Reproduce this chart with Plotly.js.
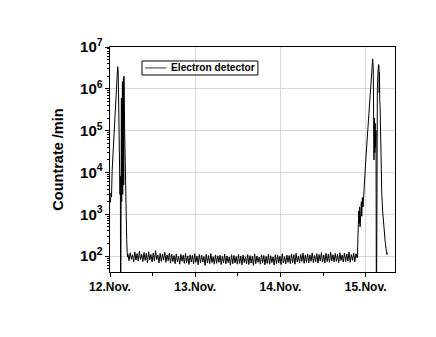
<!DOCTYPE html>
<html>
<head>
<meta charset="utf-8">
<script src="https://cdn.plot.ly/plotly-3.0.1.min.js"></script>
<style>
  html, body { margin: 0; padding: 0; background: #fff; }
  #chart { width: 436px; height: 337px; }
</style>
</head>
<body>
<div id="chart"></div>
<script>
// time in days of November, countrate in counts/min
const burst1Time = [12.005, 12.012, 12.018, 12.025, 12.035, 12.045, 12.055, 12.065, 12.075, 12.085, 12.090,
  12.095, 12.100, 12.106, 12.112, 12.117, 12.122, 12.125, 12.128, 12.131, 12.134, 12.137, 12.140,
  12.143, 12.146, 12.149, 12.152, 12.155, 12.158, 12.161, 12.164, 12.167, 12.172, 12.178, 12.184,
  12.190, 12.196, 12.202, 12.206];
const burst1Rate = [1900, 3200, 2600, 1.1e4, 2.6e4, 6e4, 1.5e5, 3.5e5, 8.5e5, 2.1e6, 3.4e6,
  2.9e6, 8e5, 1.5e5, 2.5e4, 3e3, 8e3, 1, 5e4, 1.5e3, 6e5, 2e3, 1e6,
  4e3, 1.5e6, 3e3, 8e5, 1.2e4, 1.8e6, 5e3, 2e6, 6e5, 1e5, 1.5e4, 2e3,
  600, 250, 120, 95];

const quietStart = 12.21;
const quietStep = 0.01352;
const quietRate = [
  112, 78, 120, 84, 108, 72, 126, 80, 115, 76, 131, 83, 110, 74, 122, 79, 117, 70, 128, 81,
  109, 73, 119, 77, 135, 82, 106, 69, 116, 75, 112, 80, 124, 71, 107, 78, 118, 68, 111, 74,
  103, 66, 113, 72, 99, 64, 110, 75, 105, 67, 116, 70, 101, 63, 108, 73, 104, 65, 114, 71,
  100, 62, 109, 69, 106, 72, 98, 60, 111, 68, 103, 66, 115, 70, 97, 64, 107, 67, 102, 71,
  105, 63, 99, 68, 112, 65, 101, 70, 96, 61, 108, 66, 104, 69, 98, 64, 110, 67, 100, 62,
  106, 70, 97, 65, 109, 63, 103, 68, 99, 60, 113, 66, 101, 71, 95, 64, 107, 69, 104, 62,
  98, 67, 111, 64, 102, 70, 96, 61, 108, 66, 105, 69, 100, 63, 114, 68, 97, 65, 106, 71,
  103, 66, 112, 70, 108, 64, 116, 72, 101, 68, 110, 74, 118, 67, 105, 71, 113, 69, 107, 75,
  119, 70, 104, 73, 115, 68, 109, 76, 121, 72, 106, 69, 117, 74, 111, 71, 123, 77, 108, 73,
  116, 75, 110, 70, 120, 78, 107, 72, 118, 74, 113, 76, 125, 71, 109, 79, 119, 73, 114, 90
];

const burst2Time = [14.905, 14.910, 14.915, 14.920, 14.925, 14.930, 14.935, 14.940, 14.945, 14.950,
  14.955, 14.962, 14.970, 14.980, 14.990, 15.000, 15.020, 15.040, 15.060, 15.075, 15.083,
  15.090, 15.095, 15.098, 15.103, 15.108, 15.112, 15.117, 15.122, 15.127, 15.131, 15.138,
  15.145, 15.152, 15.157, 15.160, 15.163, 15.166, 15.170, 15.175, 15.180, 15.190, 15.200,
  15.210, 15.220, 15.230, 15.240, 15.250, 15.255];
const burst2Rate = [95, 300, 700, 1200, 600, 1500, 500, 1300, 700, 2000,
  900, 2500, 1500, 4000, 6000, 1.7e4, 7e4, 2.6e5, 1e6, 2.8e6, 5.2e6,
  3e6, 5e5, 2e4, 2e5, 3e4, 1.5e5, 4e4, 1e5, 1, 3e5, 1e6,
  2.5e6, 3.8e6, 3.6e6, 8e5, 2.5e6, 5e5, 4e5, 6e4, 1.2e4, 3e3, 1.2e3,
  600, 350, 220, 150, 110, 120];

const dayTicks = [12, 13, 14, 15];
const dayLabels = ['12.Nov.', '13.Nov.', '14.Nov.', '15.Nov.'];
const seriesName = 'Electron detector';

const quietTime = quietRate.map((_, i) => quietStart + i * quietStep);
const time = burst1Time.concat(quietTime, burst2Time);
const rate = burst1Rate.concat(quietRate, burst2Rate);

const font = 'Liberation Sans, Arial, sans-serif';
const xRange = [12, 15.345];
const yRange = [1.62, 7];

const traces = [{
  x: time,
  y: rate,
  type: 'scatter',
  mode: 'lines',
  name: seriesName,
  showlegend: false,
  line: { color: '#000', width: 1 },
}];

// legend: white box with border, line sample, and label on top
const legendRect = {
  type: 'rect', xref: 'paper', yref: 'paper', layer: 'above',
  x0: 0.1123, x1: 0.519, y0: 0.8756, y1: 0.9378,
  fillcolor: '#fff', line: { color: '#000', width: 1 },
};
const legendLine = {
  type: 'line', xref: 'paper', yref: 'paper', layer: 'above',
  x0: 0.123, x1: 0.198, y0: 0.907, y1: 0.907,
  line: { color: '#000', width: 0.8 },
};
const legendLabel = {
  xref: 'paper', yref: 'paper', x: 0.515, y: 0.907,
  xanchor: 'right', yanchor: 'middle',
  text: seriesName, showarrow: false,
  font: { family: font, size: 10.2, weight: 'bold', color: '#000' },
};

const layout = {
  width: 436,
  height: 337,
  margin: { l: 110, r: 41, t: 47, b: 65 },
  paper_bgcolor: '#fff',
  plot_bgcolor: '#fff',
  font: { family: font, color: '#000' },
  showlegend: false,
  annotations: [legendLabel],
  shapes: [legendRect, legendLine],
  xaxis: {
    range: xRange,
    tickmode: 'array', tickvals: dayTicks, ticktext: dayLabels,
    ticks: 'outside', ticklen: 4, tickwidth: 1, tickcolor: '#000',
    minor: { tickmode: 'linear', tick0: 12, dtick: 0.5, ticks: 'outside', ticklen: 3, tickcolor: '#000', showgrid: false },
    showgrid: true, gridcolor: '#d9d9d9', gridwidth: 1,
    showline: true, linecolor: '#000', linewidth: 1, mirror: true,
    zeroline: false,
    tickfont: { family: font, size: 12, weight: 'bold', color: '#000' },
  },
  yaxis: {
    type: 'log', range: yRange, dtick: 1, exponentformat: 'power',
    ticks: 'outside', ticklen: 4, tickwidth: 1, tickcolor: '#000',
    minor: { dtick: 'D1', ticks: 'outside', ticklen: 2, tickcolor: '#000', showgrid: false },
    showgrid: true, gridcolor: '#d9d9d9', gridwidth: 1,
    showline: true, linecolor: '#000', linewidth: 1, mirror: true,
    zeroline: false,
    tickfont: { family: font, size: 12, weight: 'bold', color: '#000' },
    title: { text: 'Countrate /min', standoff: 12, font: { family: font, size: 14.5, weight: 'bold', color: '#000' } },
  },
  xaxis2: {
    overlaying: 'x', side: 'top', range: xRange,
    tickmode: 'array', tickvals: dayTicks, showticklabels: false,
    ticks: 'inside', ticklen: 4, tickcolor: '#000',
    minor: { tickmode: 'linear', tick0: 12, dtick: 0.5, ticks: 'inside', ticklen: 3, tickcolor: '#000', showgrid: false },
    showgrid: false, showline: false, zeroline: false,
  },
  yaxis2: {
    overlaying: 'y', side: 'right', type: 'log', range: yRange, dtick: 1,
    showticklabels: false,
    ticks: 'inside', ticklen: 4, tickcolor: '#000',
    minor: { dtick: 'D1', ticks: 'inside', ticklen: 2, tickcolor: '#000', showgrid: false },
    showgrid: false, showline: false, zeroline: false,
  },
};

Plotly.newPlot('chart', traces, layout, { displayModeBar: false, staticPlot: true });
</script>
</body>
</html>
